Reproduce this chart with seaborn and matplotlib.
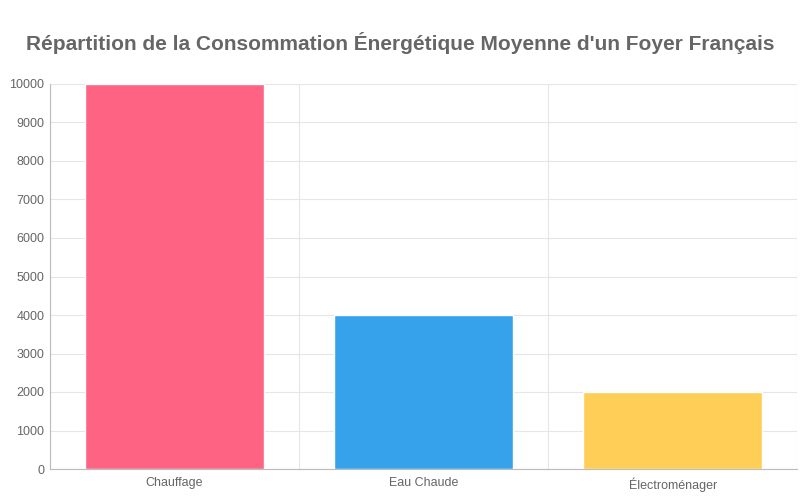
import matplotlib
matplotlib.use("Agg")
import matplotlib.pyplot as plt
import seaborn as sns
import numpy as np
import pandas as pd

categories = ["Chauffage", "Eau Chaude", "Électroménager"]
values = [10000, 4000, 2000]
colors = ["#FF6384", "#36A2EB", "#FFCE56"]
title = "Répartition de la Consommation Énergétique Moyenne d'un Foyer Français"


def main():
    sns.set_style("white")
    plt.rcParams['font.family'] = ['Liberation Sans', 'DejaVu Sans']
    df = pd.DataFrame({"cat": categories, "val": values})

    fig = plt.figure(figsize=(8, 5), dpi=100)
    ax = fig.add_axes([0.0625, 0.062, 0.934, 0.77])
    sns.barplot(data=df, x="cat", y="val", hue="cat", palette=colors,
                width=0.72, legend=False, ax=ax, zorder=2, saturation=1)

    ax.set_ylim(0, 10000)
    ax.set_xlim(-0.5, 2.5)
    ax.set_yticks(np.arange(0, 10001, 1000))
    ax.set_xticks([-0.5, 0.5, 1.5, 2.5], minor=False)
    ax.set_xticklabels([])
    ax.set_xticks([0, 1, 2], minor=True)
    ax.set_xticklabels(categories, minor=True)
    ax.tick_params(axis='x', which='minor', length=0, labelsize=9, colors="#666666", pad=6)
    ax.tick_params(axis='x', which='major', length=9, color="#dddddd")
    ax.tick_params(axis='y', length=0, labelsize=9, colors="#666666", pad=4)
    ax.grid(True, which='major', color="#e6e6e6", linewidth=0.8, zorder=0)
    ax.set_xlabel("")
    ax.set_ylabel("")
    for side in ["top", "right"]:
        ax.spines[side].set_visible(False)
    for side in ["left", "bottom"]:
        ax.spines[side].set_color("#bbbbbb")
        ax.spines[side].set_linewidth(0.8)

    fig.text(0.5, 0.915, title, ha="center", va="center", fontsize=15,
             fontweight="bold", color="#666666")
    fig.savefig("out.png", dpi=100)


if __name__ == "__main__":
    main()
